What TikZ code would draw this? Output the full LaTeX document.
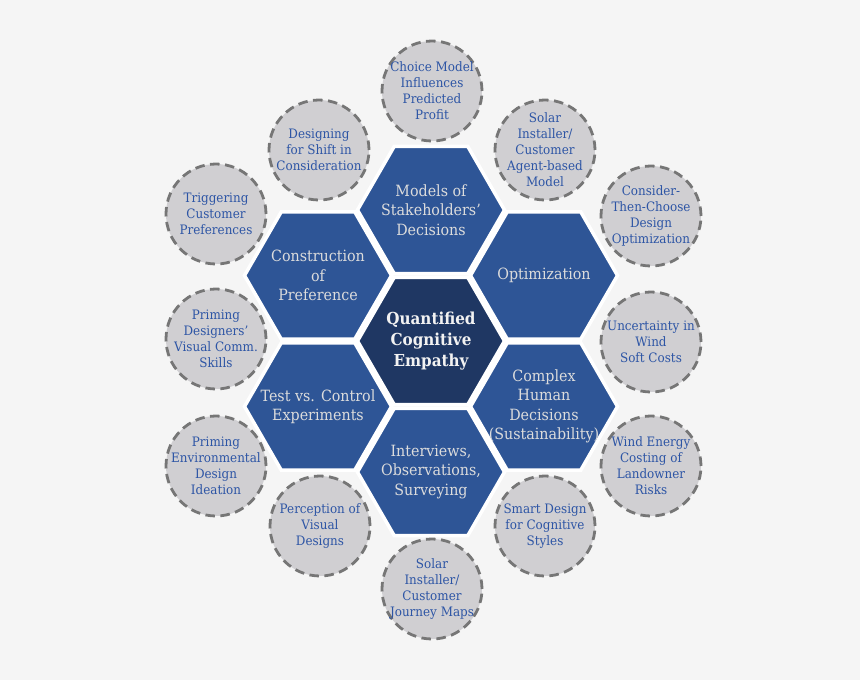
\documentclass[tikz,border=0pt]{standalone}
\usepackage{fontspec}
\setmainfont{DejaVu Serif}[FakeStretch=0.92]
\usetikzlibrary{shapes.geometric}
\definecolor{pagebg}{RGB}{245,245,245}
\definecolor{hexblue}{RGB}{46,85,150}
\definecolor{hexnavy}{RGB}{31,55,99}
\definecolor{hextext}{RGB}{220,220,220}
\definecolor{topicfill}{RGB}{208,207,210}
\definecolor{topicline}{RGB}{118,118,118}
\definecolor{topictext}{RGB}{45,85,165}

\begin{document}
\begin{tikzpicture}[x=1pt,y=-1pt,
  hexcell/.style={regular polygon,regular polygon sides=6,minimum size=147pt,inner sep=0pt,fill=hexblue,draw=white,line width=3.5pt},
  hexlabel/.style={align=center,text=hextext,font=\fontsize{15.5}{19.5}\selectfont},
  topic/.style={circle,minimum size=100pt,inner sep=0pt,fill=topicfill,draw=topicline,line width=2.8pt,dash pattern=on 9.5pt off 5.5pt},
  topiclabel/.style={align=center,text=topictext,font=\fontsize{13}{16}\selectfont}]
  \fill[pagebg] (0,0) rectangle (860,680);
  \useasboundingbox (0,0) rectangle (860,680);
  \node[hexcell,fill=hexnavy] (core) at (431,341) {};
  \node[hexcell] (models) at (431,210) {};
  \node[hexcell] (optim) at (544,275.5) {};
  \node[hexcell] (complex) at (544,406.5) {};
  \node[hexcell] (interv) at (431,472) {};
  \node[hexcell] (testctl) at (318,406.5) {};
  \node[hexcell] (constr) at (318,275.5) {};
  \node[hexlabel,font=\fontsize{16.5}{21}\selectfont\bfseries,text=white!90!gray] (core-t) at (core) {Quantified\\Cognitive\\Empathy};
  \node[hexlabel] (models-t) at (models) {Models of\\Stakeholders'\\Decisions};
  \node[hexlabel] (optim-t) at (optim) {Optimization};
  \node[hexlabel] (complex-t) at (complex) {Complex\\Human\\Decisions\\(Sustainability)};
  \node[hexlabel] (interv-t) at (interv) {Interviews,\\Observations,\\Surveying};
  \node[hexlabel] (testctl-t) at (testctl) {Test vs. Control\\Experiments};
  \node[hexlabel] (constr-t) at (constr) {Construction\\of\\Preference};
  \node[topic] (choice) at (432,91) {};
  \node[topic] (agent) at (545,150) {};
  \node[topic] (ctc) at (651,216) {};
  \node[topic] (soft) at (651,342) {};
  \node[topic] (land) at (651,466) {};
  \node[topic] (smart) at (545,526) {};
  \node[topic] (journey) at (432,589) {};
  \node[topic] (percep) at (320,526) {};
  \node[topic] (ideat) at (216,466) {};
  \node[topic] (comm) at (216,339) {};
  \node[topic] (trigger) at (216,214) {};
  \node[topic] (shift) at (319,150) {};
  \node[topiclabel] (choice-t) at (choice) {Choice Model\\Influences\\Predicted\\Profit};
  \node[topiclabel] (agent-t) at (agent) {Solar\\Installer/\\Customer\\Agent-based\\Model};
  \node[topiclabel] (ctc-t) at (ctc) {Consider-\\Then-Choose\\Design\\Optimization};
  \node[topiclabel] (soft-t) at (soft) {Uncertainty in\\Wind\\Soft Costs};
  \node[topiclabel] (land-t) at (land) {Wind Energy\\Costing of\\Landowner\\Risks};
  \node[topiclabel] (smart-t) at (smart) {Smart Design\\for Cognitive\\Styles};
  \node[topiclabel] (journey-t) at (journey) {Solar\\Installer/\\Customer\\Journey Maps};
  \node[topiclabel] (percep-t) at (percep) {Perception of\\Visual\\Designs};
  \node[topiclabel] (ideat-t) at (ideat) {Priming\\Environmental\\Design\\Ideation};
  \node[topiclabel] (comm-t) at (comm) {Priming\\Designers'\\Visual Comm.\\Skills};
  \node[topiclabel] (trigger-t) at (trigger) {Triggering\\Customer\\Preferences};
  \node[topiclabel] (shift-t) at (shift) {Designing\\for Shift in\\Consideration};
\end{tikzpicture}
\end{document}
